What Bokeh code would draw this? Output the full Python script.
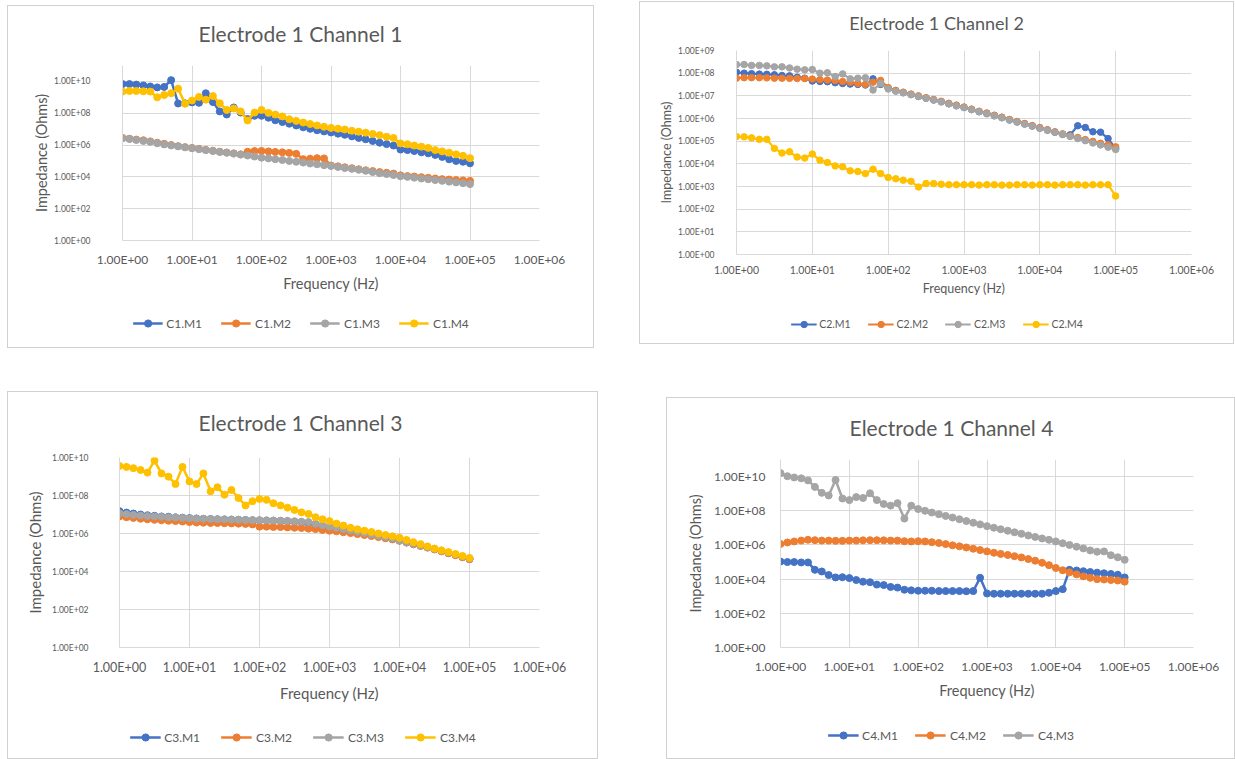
from bokeh.plotting import figure
from bokeh.models import (Range1d, FixedTicker, Legend, LegendItem, Spacer, Label)
from bokeh.layouts import row, column
from bokeh.embed import file_html
from bokeh.resources import INLINE

# ---------------- data ----------------
FREQ = [1.0, 1.26, 1.58, 2.0, 2.51, 3.16, 3.98, 5.01, 6.31, 7.94,
        10.0, 12.6, 15.8, 20.0, 25.1, 31.6, 39.8, 50.1, 63.1, 79.4,
        100, 126, 158, 200, 251, 316, 398, 501, 631, 794,
        1000, 1260, 1580, 2000, 2510, 3160, 3980, 5010, 6310, 7940,
        10000, 12600, 15800, 20000, 25100, 31600, 39800, 50100, 63100, 79400,
        100000]

X_TICKS = [1, 10, 100, 1000, 10000, 100000, 1000000]
X_TICK_LABELS = ["1.00E+00", "1.00E+01", "1.00E+02", "1.00E+03", "1.00E+04", "1.00E+05", "1.00E+06"]
Y_TICKS_2DEC = [1, 100, 10000, 1000000, 100000000, 10000000000]
Y_TICK_LABELS_2DEC = ["1.00E+00", "1.00E+02", "1.00E+04", "1.00E+06", "1.00E+08", "1.00E+10"]
Y_TICKS_1DEC = [1, 10, 100, 1000, 10000, 100000, 1000000, 10000000, 100000000, 1000000000]
Y_TICK_LABELS_1DEC = ["1.00E+00", "1.00E+01", "1.00E+02", "1.00E+03", "1.00E+04",
                      "1.00E+05", "1.00E+06", "1.00E+07", "1.00E+08", "1.00E+09"]

TITLES = ["Electrode 1 Channel 1", "Electrode 1 Channel 2", "Electrode 1 Channel 3", "Electrode 1 Channel 4"]
X_TITLE = "Frequency (Hz)"
Y_TITLE = "Impedance (Ohms)"

# Channel 1
C1_M1 = [6.8e9, 6.8e9, 6.3e9, 5.6e9, 4.8e9, 4.2e9, 4.5e9, 1.2e10, 4.1e8, 4.2e8,
         4.8e8, 4.5e8, 1.8e9, 5.0e8, 1.3e8, 8.3e7, 2.3e8, 1.1e8, 4.3e7, 6.9e7,
         6.9e7, 5.2e7, 3.6e7, 2.8e7, 2.2e7, 1.7e7, 1.3e7, 1.05e7, 8.5e6, 7.2e6,
         6.2e6, 5.2e6, 4.4e6, 3.5e6, 2.8e6, 2.3e6, 1.8e6, 1.4e6, 1.15e6, 9.3e5,
         5.2e5, 4.8e5, 4.2e5, 3.5e5, 3.0e5, 2.4e5, 1.8e5, 1.26e5, 1.0e5, 8.9e4,
         7.1e4]
C1_M2 = [2.8e6, 2.5e6, 2.2e6, 2.0e6, 1.7e6, 1.4e6, 1.2e6, 1.0e6, 8.5e5, 7.4e5,
         6.6e5, 5.8e5, 5.0e5, 4.4e5, 3.8e5, 3.4e5, 3.0e5, 2.6e5, 3.8e5, 4.2e5,
         4.3e5, 4.0e5, 3.7e5, 3.5e5, 3.2e5, 2.8e5, 1.3e5, 1.4e5, 1.5e5, 1.45e5,
         5.2e4, 4.6e4, 4.0e4, 3.5e4, 3.0e4, 2.6e4, 2.3e4, 2.0e4, 1.8e4, 1.6e4,
         1.26e4, 1.12e4, 1.05e4, 9.5e3, 8.7e3, 7.9e3, 7.2e3, 6.8e3, 6.3e3, 6.0e3,
         5.6e3]
C1_M3 = [2.7e6, 2.4e6, 2.1e6, 1.8e6, 1.6e6, 1.3e6, 1.1e6, 9.5e5, 8.3e5, 7.2e5,
         6.3e5, 5.5e5, 4.8e5, 4.2e5, 3.7e5, 3.3e5, 2.9e5, 2.5e5, 2.2e5, 1.9e5,
         1.6e5, 1.45e5, 1.3e5, 1.15e5, 1.0e5, 8.9e4, 7.9e4, 6.9e4, 6.2e4, 5.4e4,
         4.8e4, 4.2e4, 3.6e4, 3.2e4, 2.8e4, 2.4e4, 2.0e4, 1.7e4, 1.5e4, 1.3e4,
         1.1e4, 1.0e4, 8.9e3, 7.9e3, 7.1e3, 6.3e3, 5.6e3, 5.0e3, 4.5e3, 4.0e3,
         3.5e3]
C1_M4 = [2.3e9, 2.5e9, 2.5e9, 2.4e9, 2.3e9, 1.0e9, 1.4e9, 1.8e9, 3.5e9, 4.0e8,
         6.3e8, 1.05e9, 7.1e8, 1.2e9, 4.2e8, 1.6e8, 2.0e8, 1.3e8, 3.5e7, 1.1e8,
         1.6e8, 1.05e8, 8.3e7, 6.3e7, 4.2e7, 3.3e7, 2.6e7, 2.1e7, 1.7e7, 1.4e7,
         1.2e7, 1.07e7, 9.5e6, 7.9e6, 6.9e6, 6.0e6, 5.0e6, 4.2e6, 3.3e6, 2.8e6,
         1.26e6, 1.12e6, 9.3e5, 7.9e5, 6.6e5, 4.8e5, 4.0e5, 3.3e5, 2.6e5, 2.1e5,
         1.5e5]

# Channel 2
C2_M1 = [1.1e8, 1.0e8, 9.5e7, 9.1e7, 8.9e7, 8.5e7, 7.9e7, 7.6e7, 6.6e7, 6.0e7,
         4.5e7, 4.3e7, 4.2e7, 3.8e7, 3.5e7, 3.3e7, 3.2e7, 3.0e7, 5.6e7, 3.2e7,
         2.2e7, 1.7e7, 1.4e7, 1.15e7, 9.5e6, 7.9e6, 6.6e6, 5.5e6, 4.5e6, 3.7e6,
         3.1e6, 2.5e6, 2.0e6, 1.7e6, 1.35e6, 1.1e6, 8.7e5, 7.1e5, 5.8e5, 4.7e5,
         3.8e5, 3.1e5, 2.5e5, 2.0e5, 1.9e5, 4.8e5, 4.0e5, 2.6e5, 2.5e5, 1.3e5,
         4.8e4]
C2_M2 = [6.0e7, 6.3e7, 6.3e7, 6.3e7, 6.2e7, 6.0e7, 6.0e7, 5.9e7, 5.8e7, 5.8e7,
         5.5e7, 5.2e7, 5.0e7, 4.7e7, 4.3e7, 4.0e7, 3.5e7, 3.2e7, 4.0e7, 4.8e7,
         2.3e7, 1.74e7, 1.45e7, 1.2e7, 1.0e7, 8.3e6, 6.9e6, 5.75e6, 4.7e6, 3.9e6,
         3.2e6, 2.6e6, 2.1e6, 1.74e6, 1.4e6, 1.15e6, 9.1e5, 7.4e5, 6.0e5, 4.9e5,
         4.0e5, 3.2e5, 2.6e5, 2.1e5, 1.7e5, 1.45e5, 1.17e5, 9.8e4, 8.1e4, 6.8e4,
         5.6e4]
C2_M3 = [2.4e8, 2.4e8, 2.2e8, 2.2e8, 2.1e8, 1.9e8, 1.9e8, 1.7e8, 1.5e8, 1.4e8,
         1.45e8, 1.0e8, 1.05e8, 7.1e7, 9.3e7, 5.6e7, 6.0e7, 6.3e7, 1.8e7, 3.5e7,
         2.0e7, 1.6e7, 1.35e7, 1.12e7, 9.3e6, 7.8e6, 6.5e6, 5.4e6, 4.4e6, 3.6e6,
         3.0e6, 2.45e6, 2.0e6, 1.6e6, 1.3e6, 1.07e6, 8.5e5, 6.9e5, 5.6e5, 4.6e5,
         3.7e5, 3.0e5, 2.45e5, 2.0e5, 1.6e5, 1.3e5, 1.05e5, 8.3e4, 6.8e4, 5.4e4,
         4.3e4]
C2_M4 = [1.6e5, 1.55e5, 1.4e5, 1.2e5, 1.2e5, 4.8e4, 3.0e4, 3.4e4, 2.0e4, 1.8e4,
         2.7e4, 1.45e4, 1.15e4, 8.1e3, 7.4e3, 4.9e3, 4.6e3, 3.7e3, 5.8e3, 3.7e3,
         2.5e3, 2.2e3, 1.9e3, 1.7e3, 9.5e2, 1.35e3, 1.35e3, 1.26e3, 1.2e3, 1.2e3,
         1.2e3, 1.2e3, 1.15e3, 1.2e3, 1.2e3, 1.15e3, 1.15e3, 1.2e3, 1.2e3, 1.15e3,
         1.2e3, 1.2e3, 1.15e3, 1.2e3, 1.2e3, 1.2e3, 1.15e3, 1.2e3, 1.2e3, 1.2e3,
         3.8e2]

# Channel 3
C3_M1 = [1.5e7, 1.26e7, 1.12e7, 1.0e7, 9.1e6, 8.5e6, 7.9e6, 7.6e6, 7.1e6, 6.8e6,
         6.5e6, 6.2e6, 5.9e6, 5.75e6, 5.6e6, 5.5e6, 5.4e6, 5.25e6, 5.1e6, 5.0e6,
         4.9e6, 4.8e6, 4.7e6, 4.6e6, 4.4e6, 4.2e6, 3.9e6, 3.5e6, 3.1e6, 2.6e6,
         2.2e6, 1.9e6, 1.6e6, 1.4e6, 1.17e6, 1.0e6, 8.5e5, 7.2e5, 6.2e5, 5.2e5,
         4.3e5, 3.5e5, 2.8e5, 2.3e5, 1.9e5, 1.5e5, 1.2e5, 9.5e4, 7.6e4, 5.9e4,
         4.6e4]
C3_M2 = [7.9e6, 7.2e6, 6.6e6, 6.0e6, 5.6e6, 5.25e6, 5.0e6, 4.7e6, 4.5e6, 4.3e6,
         4.0e6, 3.8e6, 3.7e6, 3.6e6, 3.55e6, 3.5e6, 3.4e6, 3.3e6, 3.2e6, 3.0e6,
         2.3e6, 2.3e6, 2.2e6, 2.2e6, 2.1e6, 2.0e6, 1.95e6, 1.8e6, 1.7e6, 1.55e6,
         1.4e6, 1.3e6, 1.17e6, 1.05e6, 9.3e5, 8.3e5, 7.4e5, 6.5e5, 5.6e5, 4.9e5,
         4.1e5, 3.3e5, 2.7e5, 2.2e5, 1.8e5, 1.45e5, 1.15e5, 9.1e4, 7.2e4, 5.6e4,
         4.4e4]
C3_M3 = [1.17e7, 1.05e7, 9.5e6, 8.9e6, 8.3e6, 7.9e6, 7.6e6, 7.2e6, 6.9e6, 6.6e6,
         6.3e6, 6.0e6, 5.9e6, 5.75e6, 5.6e6, 5.5e6, 5.4e6, 5.25e6, 5.1e6, 5.0e6,
         5.0e6, 4.9e6, 4.8e6, 4.7e6, 4.6e6, 4.4e6, 4.2e6, 4.0e6, 3.3e6, 2.75e6,
         2.3e6, 2.0e6, 1.7e6, 1.45e6, 1.23e6, 1.05e6, 8.9e5, 7.6e5, 6.5e5, 5.5e5,
         4.4e5, 3.5e5, 2.9e5, 2.3e5, 1.9e5, 1.55e5, 1.23e5, 9.8e4, 7.8e4, 6.0e4,
         4.7e4]
C3_M4 = [3.6e9, 3.2e9, 2.75e9, 2.2e9, 1.6e9, 6.8e9, 1.45e9, 9.8e8, 4.0e8, 3.2e9,
         5.5e8, 4.0e8, 1.45e9, 1.66e8, 2.7e8, 1.1e8, 1.95e8, 7.4e7, 3.0e7, 5.0e7,
         6.6e7, 5.9e7, 3.9e7, 3.0e7, 2.3e7, 1.74e7, 1.3e7, 1.07e7, 7.2e6, 5.6e6,
         4.5e6, 3.3e6, 2.6e6, 2.0e6, 1.66e6, 1.4e6, 1.2e6, 1.0e6, 8.3e5, 7.1e5,
         6.0e5, 4.6e5, 3.5e5, 2.75e5, 2.1e5, 1.6e5, 1.3e5, 1.05e5, 8.3e4, 6.6e4,
         5.2e4]

# Channel 4
C4_M1 = [1.07e5, 1.0e5, 1.0e5, 9.5e4, 9.5e4, 3.5e4, 2.8e4, 1.74e4, 1.26e4, 1.3e4,
         1.15e4, 8.9e3, 7.1e3, 6.6e3, 4.8e3, 4.5e3, 3.5e3, 3.2e3, 2.4e3, 2.2e3,
         2.1e3, 2.1e3, 2.1e3, 2.0e3, 2.0e3, 2.0e3, 2.0e3, 1.95e3, 2.0e3, 1.2e4,
         1.45e3, 1.4e3, 1.4e3, 1.4e3, 1.4e3, 1.4e3, 1.4e3, 1.4e3, 1.4e3, 1.6e3,
         2.0e3, 2.6e3, 3.5e4, 3.2e4, 2.9e4, 2.6e4, 2.4e4, 2.2e4, 2.0e4, 1.8e4,
         1.26e4]
C4_M2 = [1.15e6, 1.4e6, 1.6e6, 1.8e6, 2.0e6, 1.9e6, 1.8e6, 1.8e6, 1.74e6, 1.74e6,
         1.8e6, 1.8e6, 1.86e6, 1.9e6, 1.9e6, 1.86e6, 1.8e6, 1.8e6, 1.66e6, 1.6e6,
         1.66e6, 1.6e6, 1.45e6, 1.3e6, 1.12e6, 9.5e5, 8.3e5, 7.1e5, 6.0e5, 5.0e5,
         4.2e5, 3.5e5, 3.0e5, 2.6e5, 2.2e5, 1.86e5, 1.5e5, 1.2e5, 9.1e4, 6.6e4,
         4.5e4, 3.3e4, 2.5e4, 1.9e4, 1.45e4, 1.2e4, 1.0e4, 9.5e3, 8.9e3, 8.3e3,
         7.1e3]
C4_M3 = [1.6e10, 1.05e10, 8.9e9, 7.9e9, 6.0e9, 2.5e9, 1.12e9, 7.9e8, 6.3e9, 5.2e8,
         4.2e8, 6.3e8, 5.6e8, 1.05e9, 4.2e8, 2.5e8, 2.0e8, 2.8e8, 3.5e7, 2.0e8,
         1.26e8, 1.0e8, 7.9e7, 6.3e7, 5.0e7, 4.0e7, 3.2e7, 2.5e7, 2.0e7, 1.6e7,
         1.26e7, 1.02e7, 8.3e6, 6.8e6, 5.5e6, 4.5e6, 3.6e6, 2.95e6, 2.4e6, 2.0e6,
         1.6e6, 1.26e6, 1.0e6, 7.9e5, 6.3e5, 4.8e5, 4.0e5, 4.2e5, 2.5e5, 1.9e5,
         1.35e5]

SERIES_COLORS = ["#4472C4", "#ED7D31", "#A5A5A5", "#FFC000"]

TEXT_COLOR = "#595959"
GRID_COLOR = "#d9d9d9"
FONT = "Lato"


def blank_fig(W, H):
    f = figure(width=W, height=H, x_range=Range1d(0, W), y_range=Range1d(0, H),
               x_axis_location=None, y_axis_location=None,
               output_backend="svg", toolbar_location=None, min_border=0,
               background_fill_color="white", border_fill_color="white")
    f.outline_line_color = None
    f.grid.visible = False
    return f


def make_panel(cfg):
    W = cfg["W"]
    # ---- title strip ----
    tf = blank_fig(W, cfg["Ht"])
    tf.add_layout(Label(x=cfg["title_cx"], y=cfg["Ht"] - cfg["title_cy"], text=cfg["title"],
                        text_align="center", text_baseline="middle",
                        text_font=FONT, text_font_size=cfg["title_fs"], text_color=TEXT_COLOR))

    # ---- chart ----
    ml, mr, mt, mb = cfg["ml"], cfg["mr"], cfg["mt"], cfg["mb"]
    Hc = mt + cfg["fh"] + mb
    p = figure(width=W, height=Hc, x_axis_type="log", y_axis_type="log",
               x_range=Range1d(1, 1e6), y_range=Range1d(1, cfg["ymax"]),
               output_backend="svg", toolbar_location=None,
               min_border_left=ml, min_border_right=mr,
               min_border_top=mt, min_border_bottom=mb,
               background_fill_color="white", border_fill_color="white")
    p.outline_line_color = None
    xa, ya = p.xaxis[0], p.yaxis[0]
    xa.ticker = FixedTicker(ticks=X_TICKS, minor_ticks=[])
    xa.major_label_overrides = dict(zip(X_TICKS, X_TICK_LABELS))
    ya.ticker = FixedTicker(ticks=cfg["yticks"], minor_ticks=[])
    ya.major_label_overrides = dict(zip(cfg["yticks"], cfg["ylabels"]))
    for ax in (xa, ya):
        ax.major_tick_line_color = None
        ax.minor_tick_line_color = None
        ax.major_tick_in = 0
        ax.major_tick_out = 0
        ax.minor_tick_in = 0
        ax.minor_tick_out = 0
        ax.axis_line_color = GRID_COLOR
        ax.major_label_text_color = TEXT_COLOR
        ax.major_label_text_font = FONT
        ax.axis_label_text_color = TEXT_COLOR
        ax.axis_label_text_font = FONT
        ax.axis_label_text_font_style = "normal"
    xa.axis_label = X_TITLE
    ya.axis_label = Y_TITLE
    xa.major_label_text_font_size = cfg["xtick_fs"]
    ya.major_label_text_font_size = cfg["ytick_fs"]
    xa.axis_label_text_font_size = cfg["label_fs"]
    ya.axis_label_text_font_size = cfg["label_fs"]
    xa.major_label_standoff = cfg["xtick_so"]
    xa.axis_label_standoff = cfg["xlabel_so"]
    ya.major_label_standoff = cfg["ytick_so"]
    ya.axis_label_standoff = cfg["ylabel_so"]
    p.xgrid.grid_line_color = GRID_COLOR
    p.ygrid.grid_line_color = GRID_COLOR

    for name, vals, color in cfg["series"]:
        p.line(FREQ, vals, line_color=color, line_width=cfg["lw"])
        p.scatter(FREQ, vals, marker="circle", size=cfg["ms"],
                  fill_color=color, line_color=color)

    # ---- legend strip (its key glyphs reuse the series, which fall outside this strip's view) ----
    Hl = cfg["H"] - cfg["Ht"] - Hc
    lf = blank_fig(W, Hl)
    items = []
    for name, vals, color in cfg["series"]:
        k1 = lf.line(FREQ, vals, line_color=color, line_width=cfg["lw"])
        k2 = lf.scatter(FREQ, vals, marker="circle", size=cfg["ms"],
                        fill_color=color, line_color=color)
        items.append(LegendItem(label=name, renderers=[k1, k2]))
    gh = cfg["glyph_h"]
    leg_margin = cfg["leg_cy"] - cfg["Ht"] - Hc - gh // 2
    legend = Legend(items=items, orientation="horizontal", location="top_center",
                    glyph_width=cfg["glyph_w"], glyph_height=gh, label_height=gh,
                    label_standoff=cfg["leg_so"], spacing=cfg["leg_sp"],
                    padding=0, margin=leg_margin, border_line_color=None,
                    background_fill_alpha=0,
                    label_text_font=FONT, label_text_font_size=cfg["leg_fs"],
                    label_text_color=TEXT_COLOR)
    lf.add_layout(legend)

    # wrapping the strips keeps their frames from being aligned to the chart frame
    return column(row(tf), p, row(lf), styles={"outline": "1px solid #d0d0d0"})


# panel geometry (box-relative pixels)
P1 = dict(W=585, H=341, Ht=50, ml=114, mr=54, mt=9, fh=175, mb=54, ymax=1e11,
          yticks=Y_TICKS_2DEC, ylabels=Y_TICK_LABELS_2DEC, title=TITLES[0],
          title_cx=292, title_cy=27, title_fs="21px",
          xtick_fs="12px", ytick_fs="8.5px", label_fs="14.5px",
          xtick_so=11, xlabel_so=5, ytick_so=32, ylabel_so=1,
          lw=2.5, ms=7, glyph_w=30, glyph_h=18, leg_so=4, leg_sp=19,
          leg_cy=317, leg_fs="12px",
          series=[("C1.M1", C1_M1, SERIES_COLORS[0]), ("C1.M2", C1_M2, SERIES_COLORS[1]),
                  ("C1.M3", C1_M3, SERIES_COLORS[2]), ("C1.M4", C1_M4, SERIES_COLORS[3])])

P2 = dict(W=593, H=341, Ht=40, ml=96, mr=42, mt=8, fh=204, mb=45, ymax=1e9,
          yticks=Y_TICKS_1DEC, ylabels=Y_TICK_LABELS_1DEC, title=TITLES[1],
          title_cx=296, title_cy=20, title_fs="18px",
          xtick_fs="10.5px", ytick_fs="8.5px", label_fs="12.5px",
          xtick_so=9, xlabel_so=2, ytick_so=22, ylabel_so=1,
          lw=2.2, ms=6.5, glyph_w=26, glyph_h=16, leg_so=3, leg_sp=17,
          leg_cy=322, leg_fs="10.5px",
          series=[("C2.M1", C2_M1, SERIES_COLORS[0]), ("C2.M2", C2_M2, SERIES_COLORS[1]),
                  ("C2.M3", C2_M3, SERIES_COLORS[2]), ("C2.M4", C2_M4, SERIES_COLORS[3])])

P3 = dict(W=589, H=366, Ht=56, ml=111, mr=58, mt=9, fh=190, mb=57, ymax=1e10,
          yticks=Y_TICKS_2DEC, ylabels=Y_TICK_LABELS_2DEC, title=TITLES[2],
          title_cx=292, title_cy=30, title_fs="21px",
          xtick_fs="12.5px", ytick_fs="8.5px", label_fs="15px",
          xtick_so=12, xlabel_so=6, ytick_so=31, ylabel_so=5,
          lw=2.5, ms=7, glyph_w=31, glyph_h=18, leg_so=4, leg_sp=21,
          leg_cy=345, leg_fs="12px",
          series=[("C3.M1", C3_M1, SERIES_COLORS[0]), ("C3.M2", C3_M2, SERIES_COLORS[1]),
                  ("C3.M3", C3_M3, SERIES_COLORS[2]), ("C3.M4", C3_M4, SERIES_COLORS[3])])

P4 = dict(W=567, H=360, Ht=52, ml=113, mr=41, mt=9, fh=188, mb=55, ymax=1e11,
          yticks=Y_TICKS_2DEC, ylabels=Y_TICK_LABELS_2DEC, title=TITLES[3],
          title_cx=284, title_cy=29, title_fs="21px",
          xtick_fs="12px", ytick_fs="12px", label_fs="14.5px",
          xtick_so=11, xlabel_so=5, ytick_so=15, ylabel_so=7,
          lw=2.5, ms=7, glyph_w=31, glyph_h=18, leg_so=4, leg_sp=17,
          leg_cy=337, leg_fs="12px",
          series=[("C4.M1", C4_M1, SERIES_COLORS[0]), ("C4.M2", C4_M2, SERIES_COLORS[1]),
                  ("C4.M3", C4_M3, SERIES_COLORS[2])])

box1 = make_panel(P1)
box2 = make_panel(P2)
box3 = make_panel(P3)
box4 = make_panel(P4)

col1 = column(Spacer(width=10, height=6), box1)
col2 = column(Spacer(width=10, height=2), box2)
col3 = column(Spacer(width=10, height=1), box3)
col4 = column(Spacer(width=10, height=7), box4)

top_row = row(Spacer(width=8, height=10), col1, Spacer(width=47, height=10), col2)
bottom_row = row(Spacer(width=8, height=10), col3, Spacer(width=70, height=10), col4)
layout = column(top_row, Spacer(width=10, height=44), bottom_row)

open("out.html", "w").write(file_html(layout, INLINE))
